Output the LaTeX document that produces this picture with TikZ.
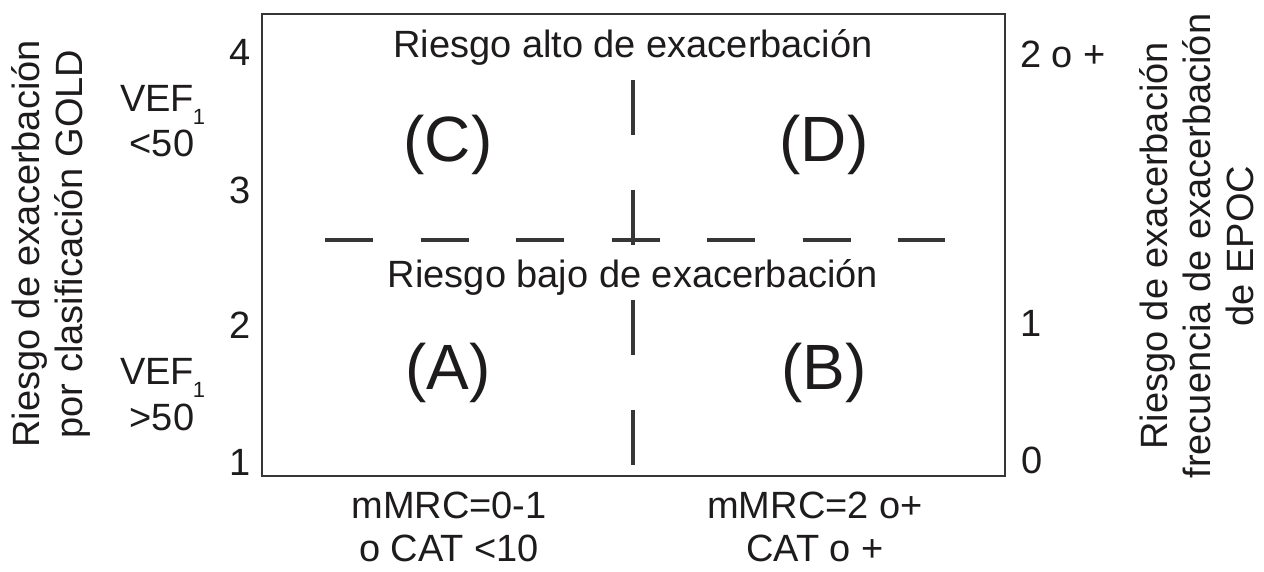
\documentclass[tikz,border=0pt]{standalone}
\usepackage{fontspec}
\setmainfont{Liberation Sans}
\definecolor{ink}{HTML}{1E1B1C}
\definecolor{linec}{HTML}{363636}
\begin{document}
\begin{tikzpicture}[x=0.5pt,y=-0.5pt,
  txt/.style={text=ink,inner sep=0pt,font=\fontsize{19}{21.5}\selectfont},
  big/.style={text=ink,inner sep=0pt,font=\fontsize{32}{36}\selectfont},
  subs/.style={text=ink,inner sep=0pt,font=\fontsize{11}{12}\selectfont},
  rot/.style={txt,rotate=90,align=center},
  frame/.style={draw=linec,line width=1.2pt},
  hdash/.style={draw=linec,line width=1.6pt,dash pattern=on 24pt off 23.75pt},
  vdash/.style={draw=linec,line width=1.6pt,dash pattern=on 27.5pt off 27.5pt}]
\useasboundingbox (0,0) rectangle (1264,572);
% frame
\coordinate (tl) at (262,14);
\coordinate (br) at (1005,476);
\draw[frame] (tl) rectangle (br);
% dashed dividers
\coordinate (hl) at (325,240);
\coordinate (hr) at (945,240);
\coordinate (vt) at (633,80);
\coordinate (vb) at (633,465);
\draw[hdash] (hl) -- (hr);
\draw[vdash] (vt) -- (vb);
% titles
\node[txt] (alto) at (633,47) {Riesgo alto de exacerbación};
\node[txt] (bajo) at (633,277) {Riesgo bajo de exacerbación};
% quadrants
\node[big] (C) at (448,145) {(C)};
\node[big] (D) at (824,145) {(D)};
\node[big] (A) at (448,373) {(A)};
\node[big] (B) at (824,373) {(B)};
% left axis numbers
\node[txt] (l4) at (240,52) {4};
\node[txt] (l3) at (240,190) {3};
\node[txt] (l2) at (240,325) {2};
\node[txt] (l1) at (240,462) {1};
% VEF labels
\node[txt] (vefa) at (157,98) {VEF};
\node[subs] (vefas) at (199,117) {1};
\node[txt] (vefav) at (162,143) {<50};
\node[txt] (vefb) at (157,371) {VEF};
\node[subs] (vefbs) at (199,390) {1};
\node[txt] (vefbv) at (162,417) {>50};
% right axis numbers
\node[txt] (r2) at (1063,54) {2 o +};
\node[txt] (r1) at (1031,323) {1};
\node[txt] (r0) at (1032,460) {0};
% rotated axis titles
\node[rot] (ltitle) at (51,244) {Riesgo de exacerbación\\por clasificación GOLD};
\node[rot] (rtitle) at (1197,246) {Riesgo de exacerbación\\frecuencia de exacerbación\\de EPOC};
% bottom labels
\node[txt,align=center] (bl) at (449,527) {mMRC=0-1\\o CAT <10};
\node[txt,align=center] (brl) at (815,527) {mMRC=2 o+\\CAT o +};
\end{tikzpicture}
\end{document}
